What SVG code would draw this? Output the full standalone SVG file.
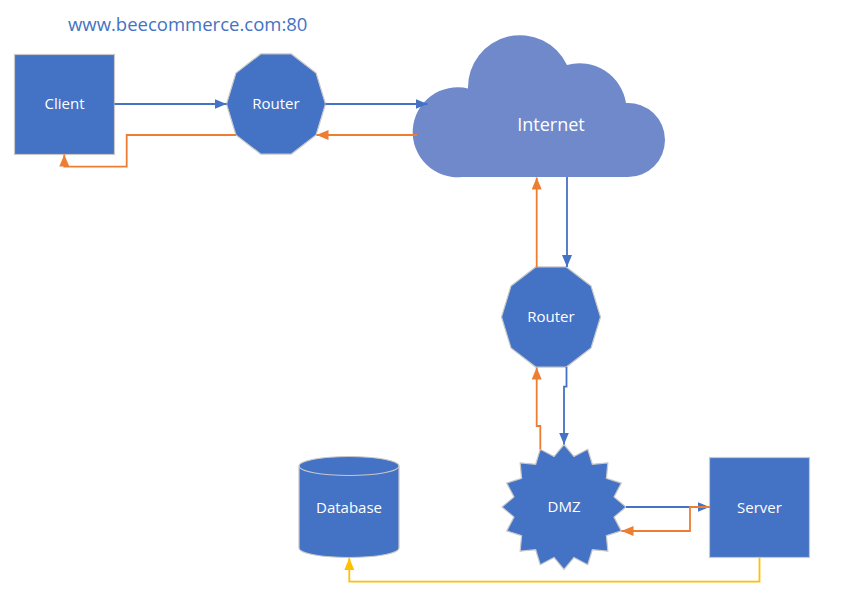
<svg xmlns="http://www.w3.org/2000/svg" width="865" height="612" viewBox="0 0 865 612">
<style>
.node{fill:#4472C4;stroke:#C8C8C8;stroke-width:1.2}
.cloud{fill:#7089CA;stroke:none}
.lbl{font-family:"Open Sans","Noto Sans",sans-serif;font-size:15px;fill:#FFFFFF;text-anchor:middle}
.title{font-family:"Open Sans","Noto Sans",sans-serif;font-size:18.5px;fill:#4472C4}
.c{fill:none;stroke-width:1.8}
.blue{stroke:#4472C4;marker-end:url(#ab)}
.orange{stroke:#ED7D31;marker-end:url(#ao)}
.yellow{stroke:#FFC000;marker-end:url(#ay)}
</style>
<defs>
<marker id="ab" markerUnits="userSpaceOnUse" markerWidth="13" markerHeight="11" refX="12" refY="5" orient="auto"><path d="M0,0 L12,5 L0,10 z" fill="#4472C4"/></marker>
<marker id="ao" markerUnits="userSpaceOnUse" markerWidth="13" markerHeight="11" refX="12" refY="5" orient="auto"><path d="M0,0 L12,5 L0,10 z" fill="#ED7D31"/></marker>
<marker id="ay" markerUnits="userSpaceOnUse" markerWidth="13" markerHeight="11" refX="12" refY="5" orient="auto"><path d="M0,0 L12,5 L0,10 z" fill="#FFC000"/></marker>
</defs>
<rect width="865" height="612" fill="#FFFFFF"/>
<text class="title" x="68" y="31">www.beecommerce.com:80</text>

<g id="client">
<rect class="node" x="14.5" y="54.5" width="100" height="100"/>
<text class="lbl" x="64.5" y="109">Client</text>
</g>
<g id="router1">
<polygon class="node" points="325.5,104 316.05,134.92 291.3,154.03 260.7,154.03 235.95,134.92 226.5,104 235.95,73.08 260.7,53.97 291.3,53.97 316.05,73.08"/>
<text class="lbl" x="276" y="109">Router</text>
</g>
<g id="internet">
<path class="cloud" d="M462,177 A45,45 0 1 1 468,88.4 A52,52 0 0 1 567,65 A47,47 0 0 1 626,103 A37,37 0 0 1 665,140 A37,37 0 0 1 628,177 Z"/>
<text class="lbl" x="551" y="131" style="font-size:18px">Internet</text>
</g>
<g id="router2">
<polygon class="node" points="600.5,317 591.05,347.92 566.3,367.03 535.7,367.03 510.95,347.92 501.5,317 510.95,286.08 535.7,266.97 566.3,266.97 591.05,286.08"/>
<text class="lbl" x="551" y="322">Router</text>
</g>
<g id="dmz">
<polygon class="node" points="564,444.5 573.95,456.59 587.73,449.26 592.34,464.26 607.84,462.81 606.41,478.44 621.28,483.08 614.02,496.97 626,507 614.02,517.03 621.28,530.92 606.41,535.56 607.84,551.19 592.34,549.74 587.73,564.74 573.95,557.41 564,569.5 554.05,557.41 540.27,564.74 535.66,549.74 520.16,551.19 521.59,535.56 506.72,530.92 513.98,517.03 502,507 513.98,496.97 506.72,483.08 521.59,478.44 520.16,462.81 535.66,464.26 540.27,449.26 554.05,456.59"/>
<text class="lbl" x="564" y="512">DMZ</text>
</g>
<g id="server">
<rect class="node" x="709.5" y="457.5" width="100" height="100"/>
<text class="lbl" x="759.5" y="512.5">Server</text>
</g>
<g id="database">
<path class="node" d="M299,466 A50,9.5 0 0 1 399,466 V548 A50,9.5 0 0 1 299,548 Z"/>
<path d="M299,466 A50,9.5 0 0 0 399,466" fill="none" stroke="#C8C8C8" stroke-width="1.2"/>
<text class="lbl" x="349" y="512.5">Database</text>
</g>

<g id="connectors">
<path class="c blue" d="M114.5,104 H226.5"/>
<path class="c blue" d="M325.5,104 H427.5"/>
<path class="c orange" d="M417,135 H316.5"/>
<path class="c orange" d="M236,135 H126.7 V166.7 H64.3 V154.5"/>
<path class="c blue" d="M567,177 V267"/>
<path class="c orange" d="M536.7,267 V177.5"/>
<path class="c blue" d="M566.5,367 V386.7 H564 V444.5"/>
<path class="c orange" d="M540.3,449.3 V426 H536.7 V367.5"/>
<path class="c blue" d="M626,507 H709.5"/>
<path class="c orange" d="M709.5,507 H690 V531 H621.5"/>
<path class="c yellow" d="M759.5,557.5 V581.7 H349.3 V558"/>
</g>
</svg>
